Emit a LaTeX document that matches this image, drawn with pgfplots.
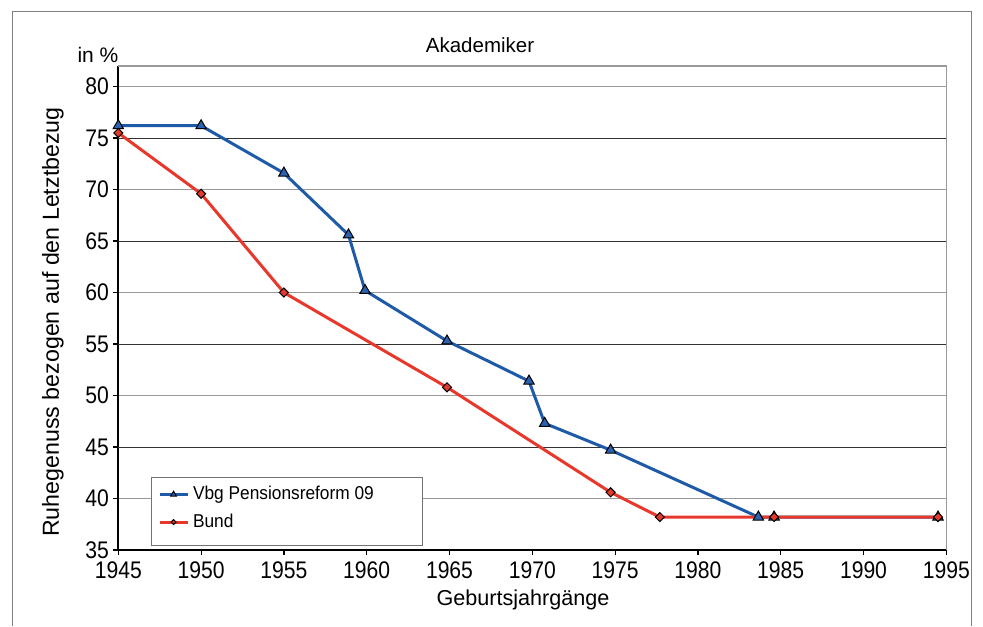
\documentclass[border=0pt]{standalone}
\usepackage{fontspec}
\setmainfont{Liberation Sans}
\newfontfamily\tickfont{Liberation Sans}[FakeStretch=0.88]
\newfontfamily\legfont{Liberation Sans}[FakeStretch=0.93]
\usepackage{pgfplots}
\pgfplotsset{compat=1.18}
\definecolor{vbgblue}{HTML}{1F5AA8}
\definecolor{vbgfill}{HTML}{2A62B0}
\definecolor{bundred}{HTML}{E8382B}
\definecolor{bundfill}{HTML}{E23A2C}
\definecolor{framegray}{HTML}{808080}

\begin{document}
\begin{tikzpicture}
\useasboundingbox (0,0) rectangle (491.5pt,-313pt);
% outer chart frame (bottom edge lies below the crop)
\draw[framegray, line width=0.5pt] (6pt,-313pt) -- (6pt,-6pt) -- (485.5pt,-6pt) -- (485.5pt,-313pt);
\begin{axis}[
  scale only axis, width=414pt, height=242pt,
  at={(59.15pt,-275pt)}, anchor=south west,
  xmin=1945, xmax=1995, ymin=35, ymax=82,
  xtick={1945,1950,...,1995},
  ytick={35,40,50,60,70,80},
  extra y ticks={45,55,65,75},
  extra y tick style={grid style={black!80, line width=0.45pt}},
  ymajorgrids, grid style={black!40, line width=0.9pt},
  axis x line*=bottom, axis y line*=left,
  axis line style={black, line width=1pt, -},
  tick align=outside, major tick length=2.5pt,
  tick style={black, line width=0.6pt},
  tick label style={font=\tickfont\fontsize{12}{14}\selectfont},
  xticklabel style={inner xsep=2pt, inner ysep=3.2pt},
  yticklabel style={inner xsep=2pt, inner ysep=0pt},
  /pgf/number format/assume math mode=true,
  /pgf/number format/1000 sep={},
  clip=false,
  legend style={at={(0.0403,0.1502)}, anchor=north west,
    draw=none, fill=none,
    font=\legfont\fontsize{9.3}{11}\selectfont,
    inner xsep=3pt, inner ysep=2.3pt, row sep=1.5pt,
    cells={anchor=west}},
  legend image code/.code={\draw[mark repeat=2,mark phase=2,#1]
    plot coordinates {(0pt,0pt) (7pt,0pt) (14pt,0pt)};},
  legend image post style={every mark/.append style={scale=0.55}},
]
  \draw[black!40, line width=0.8pt] (rel axis cs:0,1) -- (rel axis cs:1,1) -- (rel axis cs:1,0);
  \addplot[vbgblue, line width=1.5pt, mark=triangle*, mark size=3pt,
    mark options={fill=vbgfill, draw=black, line width=0.5pt}] coordinates {
    (1945,76.2) (1950,76.2) (1955,71.6) (1958.9,65.6) (1959.9,60.2)
    (1964.85,55.3) (1969.8,51.4) (1970.75,47.3) (1974.73,44.7)
    (1983.65,38.2) (1984.6,38.2) (1994.5,38.2)};
  \addlegendentry{Vbg Pensionsreform 09}
  \addplot[bundred, line width=1.5pt, mark=square*, mark size=1.6pt,
    mark options={rotate=45, fill=bundfill, draw=black, line width=0.5pt}] coordinates {
    (1945,75.5) (1950,69.6) (1955,60.0) (1964.85,50.8) (1974.73,40.6)
    (1977.7,38.2) (1984.6,38.2) (1994.5,38.2)};
  \addlegendentry{Bund}
  % legend frame, drawn under the legend entries
  \draw[black!55, line width=0.5pt, fill=white]
    (rel axis cs:0.0403,0.1502) rectangle (rel axis cs:0.3671,0.0083);
\end{axis}
\node[anchor=base, font=\fontsize{10.25}{12}\selectfont] at (240pt,-26.3pt) {Akademiker};
\node[anchor=base, font=\fontsize{10.5}{12}\selectfont] at (49pt,-31pt) {in \%};
\node[rotate=90, font=\fontsize{11.6}{14}\selectfont] at (26.5pt,-161pt) {Ruhegenuss bezogen auf den Letztbezug};
\node[anchor=base, font=\fontsize{10.8}{13}\selectfont] at (261.5pt,-302.5pt) {Geburtsjahrgänge};
\end{tikzpicture}
\end{document}
